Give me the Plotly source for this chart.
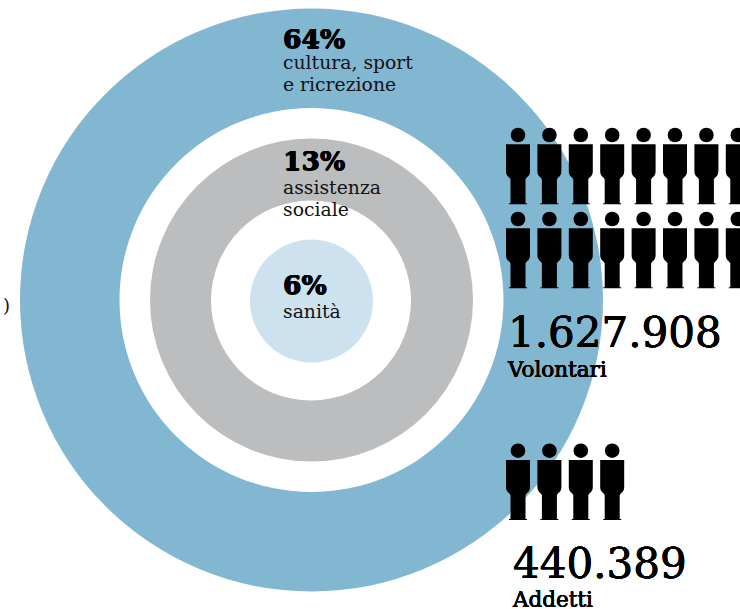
import plotly.graph_objects as go

# --- data ---
shares = [64, 13, 6]
share_labels = ["64%", "13%", "6%"]
sector_lines = [["cultura, sport", "e ricrezione"], ["assistenza", "sociale"], ["sanità"]]
people_values = [1627908, 440389]
people_names = ["Volontari", "Addetti"]
people_labels = ["1.627.908", "440.389"]
unit = 100000

# --- geometry (pixels) ---
W, H = 740, 609
rings = [
    (311.5, 300, 291.5, "#82B7D2"),
    (311.5, 300, 192, "#FFFFFF"),
    (311.5, 300, 161.5, "#BCBDBF"),
    (311, 300.5, 100, "#FFFFFF"),
    (311.5, 301, 61.5, "#CCE2EE"),
]
shapes = []
for cx, cy, r, col in rings:
    shapes.append(dict(type="circle", xref="x", yref="y", x0=cx - r, x1=cx + r, y0=cy - r, y1=cy + r,
                       fillcolor=col, line_width=0, layer="below"))


def person(x, y):
    """Head + body; y is the top of the head."""
    out = [dict(type="circle", xref="x", yref="y", x0=x - 7.3, x1=x + 7.3, y0=y, y1=y + 14.6,
                fillcolor="#000", line_width=0)]
    t = y + 16.5
    path = (f"M {x-12} {t} L {x+12} {t} L {x+12} {t+27} Q {x+12} {t+31} {x+9} {t+33} "
            f"L {x+7.5} {t+35} L {x+7.5} {t+59} L {x+9} {t+59} L {x+9} {t+60} L {x-9} {t+60} "
            f"L {x-9} {t+59} L {x-7.5} {t+59} L {x-7.5} {t+35} L {x-9} {t+33} Q {x-12} {t+31} {x-12} {t+27} Z")
    out.append(dict(type="path", xref="x", yref="y", path=path, fillcolor="#000", line_width=0))
    return out


step_x = 31.4
x_first = 518
per_row = 8
row_tops = {0: [127.7, 211.7], 1: [443.4]}
for i, v in enumerate(people_values):
    n = round(v / unit)
    for k in range(n):
        row = k // per_row
        shapes += person(x_first + (k % per_row) * step_x, row_tops[i][row])

SERIF = "DejaVu Serif, serif"
anns = []


def txt(x, y, s, size, family=SERIF, color="#111", shadow=None, xshift=0):
    font = dict(family=family, size=size, color=color)
    if shadow:
        font["shadow"] = shadow
    anns.append(dict(x=x, y=y, xref="x", yref="y", text=s, showarrow=False, xanchor="left", yanchor="middle",
                     font=font, borderpad=0, xshift=xshift))


def thick(d):
    return f"{d}px 0 0 #000, -{d}px 0 0 #000, 0 {d}px 0 #000, 0 -{d}px 0 #000"


head_pos = [(282, 38.5), (282, 160.5), (282, 284.5)]
sub_pos = [[62, 84], [187, 209], [311]]
for lab, (x, y), lines, ys in zip(share_labels, head_pos, sector_lines, sub_pos):
    txt(x, y, f"<b>{lab}</b>", 26.5, "DejaVu Serif, serif", "#000", shadow=thick(0.5))
    for l, yy in zip(lines, ys):
        txt(x, yy, l, 18.8)

txt(506.5, 332, people_labels[0], 42, color="#000", shadow=thick(0.3))
txt(506, 369, people_names[0], 21.5, color="#000", shadow=thick(0.3))
txt(512, 563, people_labels[1], 42, color="#000", shadow=thick(0.3))
txt(511, 599.5, people_names[1], 21.5, color="#000", shadow=thick(0.3))
txt(0, 305, ")", 18, xshift=2)

fig = go.Figure()
fig.update_layout(
    width=W, height=H, margin=dict(l=0, r=0, t=0, b=0), paper_bgcolor="#fff", plot_bgcolor="#fff",
    xaxis=dict(range=[0, W], visible=False, fixedrange=True),
    yaxis=dict(range=[H, 0], visible=False, fixedrange=True),
    shapes=shapes, annotations=anns, showlegend=False,
)
fig.write_html("out.html", post_script="document.body.style.margin='0';document.body.style.overflow='hidden';",
               config={"displayModeBar": False})
